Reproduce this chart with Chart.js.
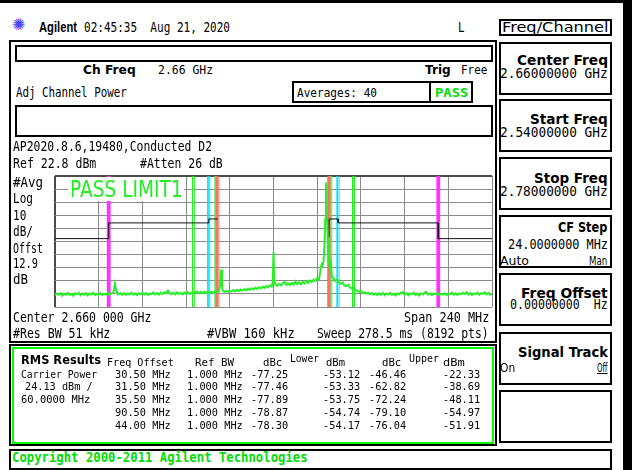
<!DOCTYPE html>
<html>
<head>
<meta charset="utf-8">
<script src="https://cdn.jsdelivr.net/npm/chart.js@4/dist/chart.umd.min.js"></script>
<style>
  html, body { margin: 0; padding: 0; background: #fff; }
  #screen { position: relative; width: 632px; height: 470px; overflow: hidden; background: #fff; }
  .box { position: absolute; box-sizing: border-box; border: 2px solid #000; background: transparent; }
  .t { position: absolute; white-space: pre; transform-origin: 0 0; color: #000; }
  #plot { position: absolute; left: 50px; top: 171px; width: 447px; height: 141px; }
</style>
</head>
<body>
<div id="screen">
  <div class="box" style="left:0;top:0;width:632px;height:3px;background:#000;border:none"></div>
  <div class="box" style="left:623px;top:0;width:9px;height:470px;background:#000;border:none"></div>

  <!-- measurement window frames -->
  <div class="box" style="left:9px;top:40px;width:488px;height:303px"></div>
  <div class="box" style="left:9px;top:344px;width:488px;height:102px"></div>
  <div class="box" style="left:15px;top:45px;width:478px;height:17px"></div>
  <div class="box" style="left:15px;top:105px;width:478px;height:32px"></div>
  <div class="box" style="left:292px;top:81px;width:139px;height:22px"></div>
  <div class="box" style="left:429px;top:81px;width:44px;height:22px"></div>
  <div class="box" style="left:12px;top:347px;width:482px;height:97px;border-color:#00ff00"></div>
  <div class="box" style="left:9px;top:449px;width:603px;height:21px"></div>

  <!-- softkey panel -->
  <div class="box" style="left:499px;top:19px;width:113px;height:17px"></div>
  <div class="box" style="left:499px;top:42px;width:113px;height:53px"></div>
  <div class="box" style="left:499px;top:99px;width:113px;height:53px"></div>
  <div class="box" style="left:499px;top:157px;width:113px;height:53px"></div>
  <div class="box" style="left:499px;top:215px;width:113px;height:53px"></div>
  <div class="box" style="left:499px;top:273px;width:113px;height:53px"></div>
  <div class="box" style="left:499px;top:332px;width:113px;height:53px"></div>
  <div class="box" style="left:499px;top:390px;width:113px;height:53px"></div>

  <div id="plot"><canvas id="chart" width="447" height="141"></canvas></div>
  <div class="box" style="left:68px;top:177px;width:116px;height:24px;background:#fff;border:none;z-index:2"></div>
</div>

<script>
// ---- sweep setup ----
const startMHz = 2540;
const stopMHz = 2780;
const centerMHz = 2660;
const refLevelDbm = 22.8;
const dbPerDiv = 10;
const refBwMHz = 1.0;

// graticule lines (10 x 10 divisions)
const gridMHz = [2540, 2564, 2588, 2612, 2636, 2660, 2684, 2708, 2732, 2756, 2780];
const gridDbm = [-77.2, -67.2, -57.2, -47.2, -37.2, -27.2, -17.2, -7.2, 2.8, 12.8, 22.8];

// averaged trace: [frequency MHz, level dBm]
const traceSamples = [
  [2540,-68.2],[2541,-66.9],[2542,-67.8],[2543,-66.6],[2544,-68.5],[2545,-67.1],[2546,-67.9],[2547,-66.5],[2548,-68.0],[2549,-67.2],
  [2550,-68.6],[2551,-66.8],[2552,-67.5],[2553,-66.4],[2554,-68.3],[2555,-67.0],[2556,-67.9],[2557,-66.7],[2558,-68.4],[2559,-66.9],
  [2560,-67.6],[2561,-66.3],[2562,-68.1],[2563,-67.0],[2564,-67.8],[2565,-66.6],[2566,-68.2],[2567,-67.1],[2568,-67.7],[2569,-66.5],
  [2570,-68.0],[2571,-66.8],[2572,-66.2],[2572.9,-59.3],[2573.6,-64.8],[2574,-65.8],[2575,-67.4],[2576,-66.5],[2577,-67.9],[2578,-66.6],[2579,-68.0],
  [2580,-66.9],[2581,-67.6],[2582,-66.3],[2583,-67.8],[2584,-66.7],[2585,-68.1],[2586,-66.8],[2587,-67.5],[2588,-66.2],[2589,-67.7],
  [2590,-66.6],[2591,-68.0],[2592,-66.9],[2593,-67.3],[2594,-66.1],[2595,-67.6],[2596,-66.5],[2597,-67.8],[2598,-66.4],[2599,-67.2],
  [2600,-65.9],[2601,-66.8],[2602,-64.6],[2603,-66.5],[2604,-67.4],[2605,-66.2],[2606,-67.5],[2607,-66.0],[2608,-67.3],[2609,-66.4],
  [2610,-67.6],[2611,-66.1],[2612,-67.0],[2613,-65.8],[2614,-67.2],[2615,-66.3],[2616,-66.9],[2617,-65.9],[2618,-65.3],[2619,-66.6],
  [2620,-65.7],[2621,-66.8],[2622,-65.6],[2623,-66.5],[2624,-65.4],[2625,-66.6],[2626,-65.5],[2627,-66.3],[2628,-65.2],[2629,-66.0],
  [2630,-64.9],[2630.7,-60.5],[2631.2,-48.6],[2631.7,-61.0],[2632,-64.6],[2633,-65.6],[2634,-64.8],[2635,-65.7],[2636,-64.9],[2637,-65.5],[2638,-64.3],[2639,-65.2],
  [2640,-64.0],[2641,-65.0],[2642,-63.8],[2643,-64.7],[2644,-63.6],[2645,-64.5],[2646,-63.2],[2647,-64.2],[2648,-62.9],[2649,-63.8],
  [2650,-62.5],[2651,-63.5],[2652,-62.1],[2653,-63.0],[2654,-61.7],[2655,-62.6],[2656,-61.2],[2657,-62.2],[2658,-60.6],[2659,-61.6],
  [2659.6,-58.0],[2660,-35.2],[2660.4,-57.5],[2661,-59.8],[2662,-61.0],[2663,-59.5],[2664,-60.7],[2665,-59.2],[2666,-58.0],[2667,-60.3],[2668,-59.0],[2669,-60.4],
  [2670,-58.8],[2671,-60.1],[2672,-57.6],[2673,-59.8],[2674,-58.4],[2675,-60.0],[2676,-57.9],[2677,-59.2],[2678,-57.5],[2679,-58.8],
  [2680,-56.9],[2681,-58.2],[2682,-56.3],[2683,-57.4],[2684,-55.3],[2685,-56.0],[2686,-47.0],[2686.5,-44.5],[2687,-45.5],[2687.5,-42.0],
  [2688,-30.0],[2688.4,-10.0],[2688.8,17.8],[2689.2,0.0],[2689.6,-18.0],[2690,-32.0],[2690.5,-42.0],[2691,-49.5],[2691.5,-45.0],[2692,-53.5],
  [2693,-55.5],[2694,-57.2],[2695,-56.0],[2696,-58.8],[2697,-59.6],[2698,-58.5],[2699,-60.8],[2700,-61.3],[2701,-60.2],[2702,-62.5],
  [2703,-63.0],[2704,-62.0],[2705,-64.1],[2706,-64.8],[2707,-65.6],[2708,-65.0],[2709,-66.4],[2710,-66.0],[2711,-67.0],[2712,-66.3],
  [2713,-67.5],[2714,-66.6],[2715,-67.8],[2716,-66.9],[2717,-68.1],[2718,-66.8],[2719,-67.9],[2720,-66.5],[2721,-68.3],[2722,-67.0],
  [2723,-67.7],[2724,-66.4],[2725,-68.0],[2726,-67.1],[2727,-68.4],[2728,-66.7],[2729,-67.6],[2730,-66.2],[2731,-65.8],[2732,-67.9],
  [2733,-66.6],[2734,-68.2],[2735,-66.9],[2736,-67.5],[2737,-66.3],[2738,-68.0],[2739,-67.2],[2740,-68.5],[2741,-66.8],[2742,-67.7],
  [2743,-66.1],[2744,-65.9],[2745,-67.8],[2746,-66.7],[2747,-68.1],[2748,-66.9],[2749,-67.4],[2750,-66.5],[2751,-68.2],[2752,-67.0],
  [2753,-67.8],[2754,-66.6],[2755,-68.3],[2756,-66.8],[2757,-67.5],[2758,-66.2],[2759,-67.9],[2760,-66.7],[2761,-68.0],[2762,-66.9],
  [2763,-67.6],[2764,-66.4],[2765,-67.3],[2766,-66.0],[2767,-67.7],[2768,-66.5],[2769,-68.1],[2770,-66.8],[2771,-67.4],[2772,-66.3],
  [2773,-67.9],[2774,-66.6],[2775,-67.2],[2776,-66.1],[2777,-67.5],[2778,-66.4],[2779,-67.8],[2780,-66.9]
];

// limit line (null = no limit over the carrier)
const limitMHz = [2540, 2569.5, 2569.5, 2624.5, 2624.5, 2629.5, 2660, 2690.5, 2690.5, 2695.5, 2695.5, 2750.5, 2750.5, 2780];
const limitDbm = [-25, -25, -13, -13, -10, -10, null, -24, -10, -10, -13, -13, -25, -25];

// offset measurement bands
const offsetMHz = [30.5, 31.5, 35.5, 90.5, 44.0];
const offsetColors = ['#ff6464', '#44ee44', '#00e0ff', '#ff33ff', '#22ee22'];
const offsetWidths = [1, 1, 1, 2, 1];

// RMS results table
const offsetLabels = ['30.50 MHz', '31.50 MHz', '35.50 MHz', '90.50 MHz', '44.00 MHz'];
const refBwLabels = ['1.000 MHz', '1.000 MHz', '1.000 MHz', '1.000 MHz', '1.000 MHz'];
const lowerDbc = [-77.25, -77.46, -77.89, -78.87, -78.30];
const lowerDbm = [-53.12, -53.33, -53.75, -54.74, -54.17];
const upperDbc = [-46.46, -62.82, -72.24, -79.10, -76.04];
const upperDbm = [-22.33, -38.69, -48.11, -54.97, -51.91];

// softkeys: title, value
const softkeyTitles = ['Center Freq', 'Start Freq', 'Stop Freq', 'CF Step', 'Freq Offset', 'Signal Track'];
const softkeyValues = ['2.66000000 GHz', '2.54000000 GHz', '2.78000000 GHz', '24.0000000 MHz', '0.00000000  Hz', ''];

// ---- text helper: fit text to a cap height and a width ----
const MONO = "'DejaVu Sans Mono', monospace";
const SANS = "'DejaVu Sans', sans-serif";
const ARIAL = "'Liberation Sans', Arial, sans-serif";
const mctx = document.createElement('canvas').getContext('2d');
const screenEl = document.getElementById('screen');

function put(text, x, capTop, capH, w, o) {
  o = o || {};
  const fam = o.font || MONO;
  const weight = o.bold ? 'bold' : 'normal';
  mctx.font = weight + ' 100px ' + fam;
  const capR = mctx.measureText('H').actualBoundingBoxAscent / 100;
  const fs = capH / capR;
  mctx.font = weight + ' ' + fs + 'px ' + fam;
  const m = mctx.measureText(text);
  const asc = m.fontBoundingBoxAscent, desc = m.fontBoundingBoxDescent;
  const base = (fs - (asc + desc)) / 2 + asc;
  const el = document.createElement('div');
  el.className = 't';
  el.textContent = text;
  el.style.font = weight + ' ' + fs + 'px/' + fs + 'px ' + fam;
  el.style.left = (o.right ? x - w : x) + 'px';
  el.style.top = (capTop + capH - base) + 'px';
  el.style.transform = 'scaleX(' + (w / m.width) + ')';
  el.style.zIndex = 3;
  if (o.color) el.style.color = o.color;
  if (o.underline) el.style.textDecoration = 'underline';
  screenEl.appendChild(el);
}

// header
const star = document.createElement('div');
star.className = 't';
star.textContent = '\u273A';
star.style.cssText += 'left:12px;top:17px;font:16px/16px ' + SANS + ';color:#4848f0;';
screenEl.appendChild(star);
put('Agilent', 39.3, 22.5, 10, 38, { font: ARIAL, bold: true });
put('02:45:35  Aug 21, 2020', 84, 22.5, 10, 146);
put('L', 457.5, 22.5, 10, 6.5);

// measurement annotations
put('Ch Freq', 83.3, 65.7, 9.3, 52.7, { font: SANS, bold: true });
put('2.66 GHz', 158.3, 65.7, 9.3, 55);
put('Trig', 425, 65.7, 9.3, 25.7, { font: SANS, bold: true });
put('Free', 461, 65.7, 9.3, 26.3);
put('Adj Channel Power', 16, 87.3, 9.7, 110.7);
put('Averages: 40', 296.7, 87.3, 9.5, 80);
put('PASS', 435, 87.3, 9.5, 33.3, { bold: true, color: '#00dd00' });
put('AP2020.8.6,19480,Conducted D2', 13, 141.7, 10, 199);
put('Ref 22.8 dBm', 13.3, 159.3, 10, 83.3);
put('#Atten 26 dB', 140, 159.3, 10, 82.7);
put('#Avg', 13.3, 177.7, 9.7, 30);
put('Log', 13.3, 193.5, 9.7, 20);
put('10', 13.3, 210, 9.7, 13.3);
put('dB/', 13.3, 226.7, 9.7, 20);
put('Offst', 13.3, 243.3, 9.7, 30);
put('12.9', 13.3, 258.3, 9.7, 25);
put('dB', 13.3, 274, 9.7, 15);
put('PASS LIMIT1', 70, 180.3, 17.3, 112.7, { font: SANS, color: '#22ee22' });
put('Center 2.660 000 GHz', 13.3, 312.7, 9.7, 138.3);
put('Span 240 MHz', 489.3, 312.7, 9.7, 85.3, { right: true });
put('#Res BW 51 kHz', 13.3, 328.3, 9.7, 97.3);
put('#VBW 160 kHz', 207.3, 328.3, 9.7, 87.7);
put('Sweep 278.5 ms (8192 pts)', 316.7, 328.3, 9.7, 171.7);

// RMS results table
put('RMS Results', 20.7, 355.7, 9.3, 80, { font: SANS, bold: true });
put('Freq Offset', 107.3, 358.3, 7.7, 66.7);
put('Ref BW', 195, 358.3, 7.7, 39);
put('dBc', 263.3, 358.3, 7.7, 19.3);
put('Lower', 290, 354.3, 7.7, 29);
put('dBm', 326, 358.3, 7.7, 19);
put('dBc', 381.7, 358.3, 7.7, 19.3);
put('Upper', 409.3, 354.3, 7.7, 30);
put('dBm', 442.7, 358.3, 7.7, 21.7);
put('Carrier Power', 20.7, 370, 8.3, 76);
put('24.13 dBm /', 25, 382.7, 8.3, 67.7);
put('60.0000 MHz', 20.7, 395.7, 8.3, 69.3);
const rowCapTop = [370, 382.7, 395.7, 408.7, 421.3];
const cw = 6.2;
for (let i = 0; i < offsetLabels.length; i++) {
  const y = rowCapTop[i];
  const a = offsetLabels[i], b = refBwLabels[i];
  const c = lowerDbc[i].toFixed(2), d = lowerDbm[i].toFixed(2);
  const e = upperDbc[i].toFixed(2), f = upperDbm[i].toFixed(2);
  put(a, 170.7, y, 8.3, a.length * cw, { right: true });
  put(b, 187.3, y, 8.3, b.length * cw);
  put(c, 250.7, y, 8.3, c.length * cw);
  put(d, 360, y, 8.3, d.length * cw, { right: true });
  put(e, 369.3, y, 8.3, e.length * cw);
  put(f, 480, y, 8.3, f.length * cw, { right: true });
}
put('Copyright 2000-2011 Agilent Technologies', 11.7, 452.7, 9.7, 295.6, { bold: true, color: '#00dd00' });

// softkey labels
put('Freq/Channel', 502, 22, 10.3, 106.5, { font: SANS });
const keyTitleTop = [55, 113.3, 172.3, 221.7, 287.3, 346.7];
const keyTitleW = [91, 77.7, 73.7, 49.3, 86.7, 90];
const keyValueTop = [69.3, 128.3, 186.7, 240, 300];
const keyValueW = [107.7, 107.7, 107.7, 100, 97.7];
for (let i = 0; i < softkeyTitles.length; i++) {
  put(softkeyTitles[i], 607.7, keyTitleTop[i], 10.5, keyTitleW[i], { font: SANS, bold: true, right: true });
  if (softkeyValues[i]) put(softkeyValues[i], 607.7, keyValueTop[i], 10, keyValueW[i], { right: true });
}
put('Auto', 500, 256, 9.5, 29, { font: SANS, underline: true });
put('Man', 607.7, 256, 9.5, 18.3, { font: SANS, right: true });
put('On', 500, 362.7, 9.5, 15.3, { font: SANS });
put('Off', 607.7, 362.7, 9.5, 10.5, { font: SANS, underline: true, right: true });

// ---- graticule and traces ----
const yMin = gridDbm[0], yMax = gridDbm[gridDbm.length - 1];
const datasets = [];

datasets.push({
  data: traceSamples.map(([x, y]) => ({ x, y })),
  borderColor: '#26f026', borderWidth: 2, order: 0
});
datasets.push({
  data: limitMHz.map((x, i) => ({ x, y: limitDbm[i] })),
  borderColor: '#111', borderWidth: 1, spanGaps: false, order: 1
});
offsetMHz.forEach((off, k) => {
  [-1, 1].forEach(side => {
    const mid = centerMHz + side * off;
    const lo = mid - refBwMHz / 2, hi = mid + refBwMHz / 2;
    datasets.push({
      data: [{ x: lo, y: yMax }, { x: lo, y: yMin }, { x: lo, y: null }, { x: hi, y: yMin }, { x: hi, y: yMax }],
      borderColor: offsetColors[k], borderWidth: offsetWidths[k], spanGaps: false, order: 2
    });
  });
});

new Chart(document.getElementById('chart'), {
  type: 'line',
  data: { datasets },
  options: {
    responsive: false,
    animation: false,
    devicePixelRatio: 1,
    layout: { padding: 5 },
    elements: { point: { radius: 0 }, line: { tension: 0 } },
    plugins: { legend: { display: false }, tooltip: { enabled: false } },
    scales: {
      x: {
        type: 'linear', min: startMHz, max: stopMHz,
        afterBuildTicks: ax => { ax.ticks = gridMHz.map(v => ({ value: v })); },
        ticks: { display: false },
        border: { display: false },
        grid: {
          drawTicks: false,
          color: c => c.index === 0 ? '#4a4a4a' : '#8a8a8a',
          lineWidth: c => c.index === 0 ? 2 : 1
        }
      },
      y: {
        type: 'linear', min: yMin, max: yMax,
        afterBuildTicks: ax => { ax.ticks = gridDbm.map(v => ({ value: v })); },
        ticks: { display: false },
        border: { display: false },
        grid: {
          drawTicks: false,
          color: c => c.index === gridDbm.length - 1 ? '#4a4a4a' : '#8a8a8a',
          lineWidth: c => c.index === gridDbm.length - 1 ? 2 : 1
        }
      }
    }
  }
});
</script>
</body>
</html>
